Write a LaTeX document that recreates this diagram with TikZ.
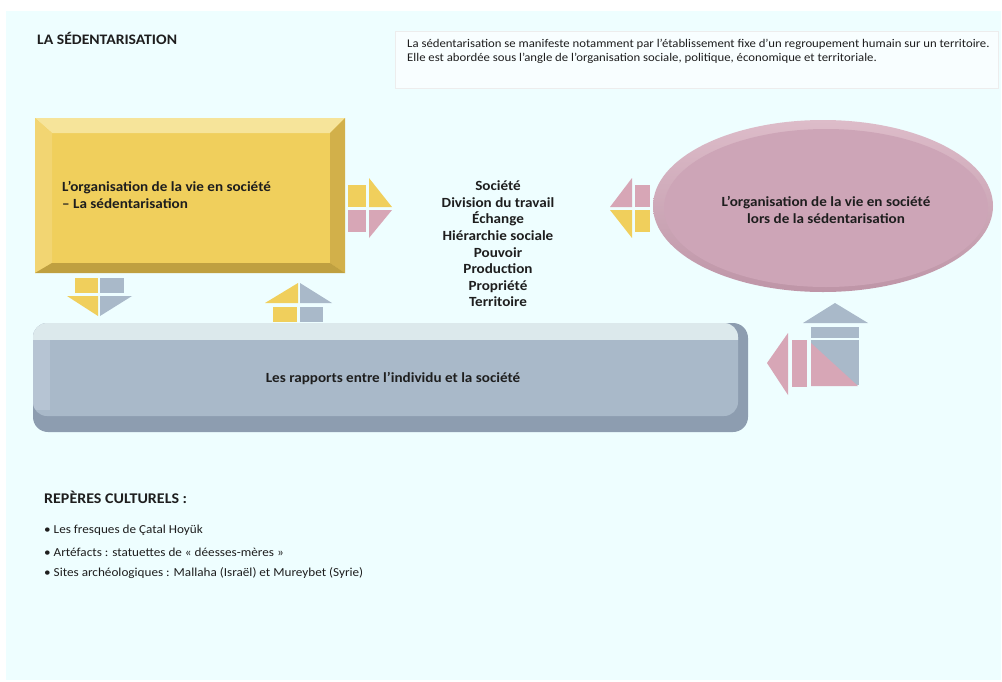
\documentclass[tikz,border=0pt]{standalone}
\usepackage{fontspec}
\setmainfont{Carlito}[FakeStretch=1.08]
\usetikzlibrary{shapes.geometric}
\definecolor{bgc}{HTML}{EEFEFF}
\definecolor{ylw}{HTML}{F0CF5C}
\definecolor{ylwlt}{HTML}{F6E49A}
\definecolor{ylwmd}{HTML}{F2D572}
\definecolor{ylwdk}{HTML}{D2B04A}
\definecolor{ylwdkk}{HTML}{BFA040}
\definecolor{pnk}{HTML}{D7A6B6}
\definecolor{pnkface}{HTML}{CDA5B7}
\definecolor{pnklt}{HTML}{DDBCC9}
\definecolor{pnkdk}{HTML}{BE95A7}
\definecolor{blu}{HTML}{A9B9C9}
\definecolor{bludk}{HTML}{8D9DB0}
\definecolor{blult}{HTML}{DCE9EC}
\definecolor{bluside}{HTML}{B6C4D3}
\definecolor{txt}{HTML}{1E1E1E}
\tikzset{
  boxtext/.style={font=\bfseries\fontsize{14}{16.6}\selectfont, text=txt, inner sep=0pt},
  small/.style={font=\fontsize{12.2}{14}\selectfont, text=txt, inner sep=0pt, anchor=west},
  titletext/.style={font=\bfseries\fontsize{14.5}{16}\selectfont, text=txt, inner sep=0pt, anchor=west}
}
\begin{document}
\begin{tikzpicture}[x=1pt,y=-1pt]
\useasboundingbox (0,0) rectangle (1002,681);
\fill[white] (0,0) rectangle (1002,681);
\fill[bgc] (6,11) rectangle (1001,680);

% title
\node[titletext] (title) at (37,38) {LA SÉDENTARISATION};

% description box
\fill[white!60!bgc, draw=black!7] (395,31) rectangle (998,88);
\node[small, align=left, font=\fontsize{11.8}{14}\selectfont] (desc) at (407,51) {La sédentarisation se manifeste notamment par l’établissement fixe d’un regroupement humain sur un territoire.\\Elle est abordée sous l’angle de l’organisation sociale, politique, économique et territoriale.};

% yellow bevelled box
\fill[ylw] (35,118) rectangle (345,273);
\fill[ylwlt] (35,118) -- (345,118) -- (330,133) -- (52,133) -- cycle;
\fill[ylwmd] (35,118) -- (52,133) -- (52,263) -- (35,273) -- cycle;
\fill[ylwdk] (345,118) -- (345,273) -- (330,263) -- (330,133) -- cycle;
\fill[ylwdkk] (35,273) -- (52,263) -- (330,263) -- (345,273) -- cycle;
\node[boxtext, anchor=west, align=left] (yb) at (62,195) {L’organisation de la vie en société\\– La sédentarisation};

% right-pointing arrow (yellow/pink)
\fill[ylw] (348,185) rectangle (366,207);
\fill[pnk] (348,210) rectangle (366,232);
\fill[ylw] (369,178) -- (392,207) -- (369,207) -- cycle;
\fill[pnk] (369,210) -- (392,210) -- (369,238) -- cycle;

% central list
\node[boxtext, align=center] (list) at (498,244) {Société\\Division du travail\\Échange\\Hiérarchie sociale\\Pouvoir\\Production\\Propriété\\Territoire};

% left-pointing arrow (pink/yellow)
\fill[pnk] (610,207) -- (632,178) -- (632,207) -- cycle;
\fill[ylw] (610,210) -- (632,210) -- (632,238) -- cycle;
\fill[pnk] (635,185) rectangle (650,207);
\fill[ylw] (635,210) rectangle (650,232);

% ellipse
\shade[top color=pnklt, bottom color=pnkdk] (823,206) ellipse [x radius=170, y radius=86];
\fill[pnkface] (826,208) ellipse [x radius=162, y radius=79];
\node[boxtext, align=center] (ell) at (826,210) {L’organisation de la vie en société\\lors de la sédentarisation};

% down arrow under yellow box
\fill[ylw] (75,278) rectangle (98,293);
\fill[blu] (100,278) rectangle (124,293);
\fill[ylw] (67,296) -- (98,296) -- (98,316) -- cycle;
\fill[blu] (100,296) -- (132,296) -- (100,316) -- cycle;

% up arrow
\fill[ylw] (265,303) -- (298,283) -- (298,303) -- cycle;
\fill[blu] (300,283) -- (332,303) -- (300,303) -- cycle;
\fill[ylw] (273,307) rectangle (297,322);
\fill[blu] (300,307) rectangle (323,322);

% blue rounded box
\fill[bludk, rounded corners=15pt] (33,323) rectangle (748,432);
\fill[blu, rounded corners=14pt] (33,323) rectangle (738,416);
\begin{scope}
  \clip[rounded corners=14pt] (33,323) rectangle (738,416);
  \fill[blult] (33,323) rectangle (748,340);
  \fill[bluside] (33,340) rectangle (50,410);
\end{scope}
\node[boxtext] (bb) at (393,379) {Les rapports entre l’individu et la société};

% house/arrow icon at right
\fill[blu] (803,323) -- (835,303) -- (868,323) -- cycle;
\fill[blu] (811,327) rectangle (859,385);
\draw[bgc, line width=1.2pt] (811,339) -- (859,339);
\fill[pnk] (767,363) -- (788,333) -- (788,395) -- cycle;
\fill[pnk] (792,340) rectangle (807,387);
\fill[pnk] (811,343) -- (858,386) -- (811,386) -- cycle;

% cultural landmarks
\node[titletext, font=\bfseries\fontsize{14.8}{16}\selectfont] (rep) at (44,497) {REPÈRES CULTURELS :};
\node[small] (b1) at (44,530) {• Les fresques de Çatal Hoyük};
\node[small] (b2) at (44,552) {• Artéfacts : statuettes de « déesses-mères »};
\node[small] (b3) at (44,573) {• Sites archéologiques : Mallaha (Israël) et Mureybet (Syrie)};
\end{tikzpicture}
\end{document}
